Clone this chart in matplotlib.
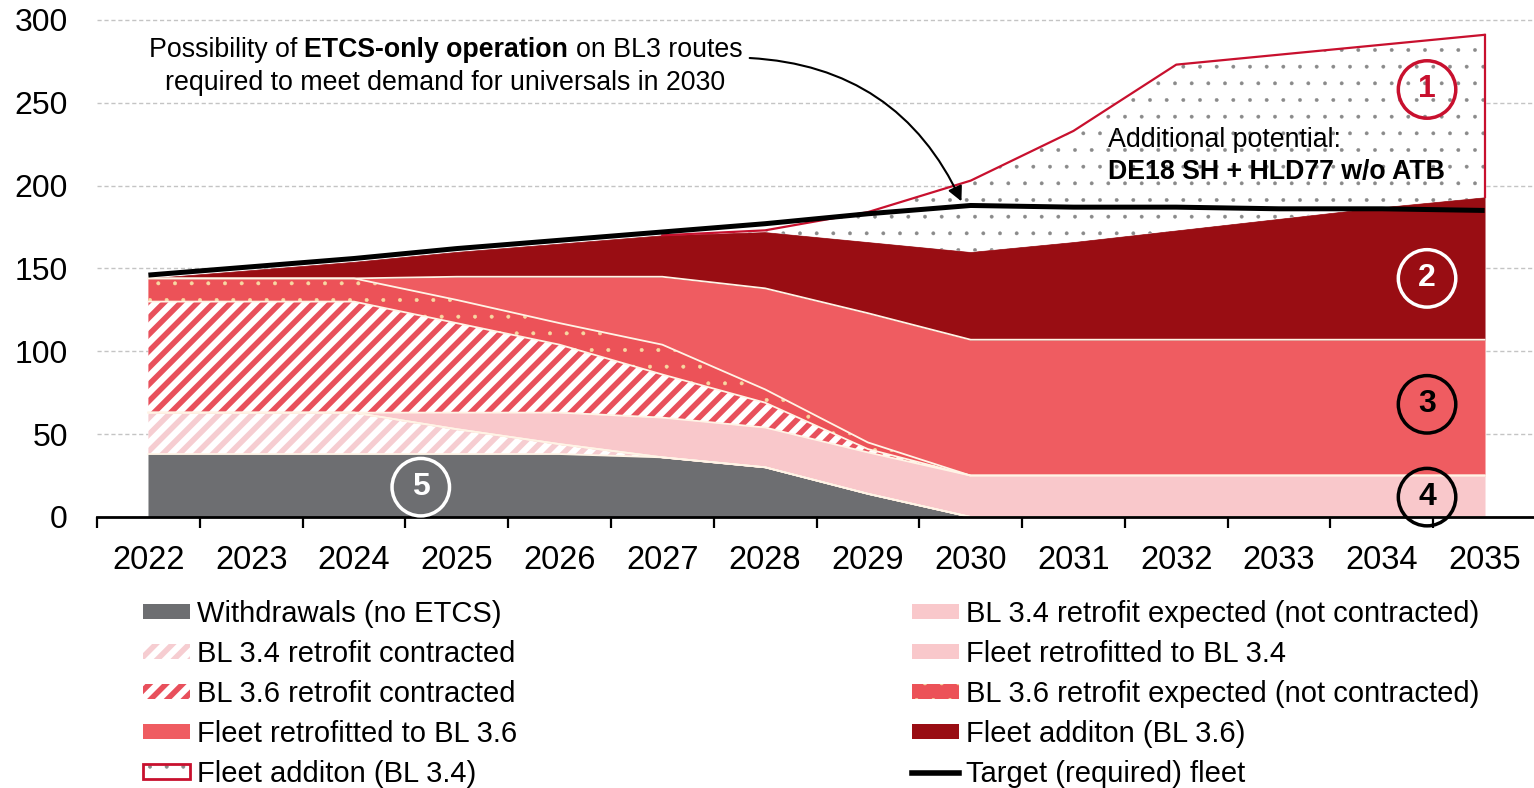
import numpy as np
import matplotlib
import matplotlib.pyplot as plt
from matplotlib.patches import Patch
from matplotlib.lines import Line2D

plt.rcParams['font.family'] = ['Liberation Sans', 'DejaVu Sans']
plt.rcParams['hatch.linewidth'] = 4.0

years = np.arange(2022, 2036)

# stacked layers, bottom -> top (number of vehicles)
withdrawals   = [38, 38, 38, 38, 38, 36, 30, 14, 0, 0, 0, 0, 0, 0]
bl34_contract = [25, 25, 25, 15, 6, 0, 0, 0, 0, 0, 0, 0, 0, 0]
bl34_expected = [0, 0, 0, 0, 0, 0, 0, 0, 0, 0, 0, 0, 0, 0]
bl34_fleet    = [0, 0, 0, 10, 19, 24, 24, 25, 25, 25, 25, 25, 25, 25]
bl36_contract = [67, 67, 67, 54, 41, 26, 15, 2, 0, 0, 0, 0, 0, 0]
bl36_expected = [14, 14, 14, 14, 13, 18, 8, 4, 0, 0, 0, 0, 0, 0]
bl36_fleet    = [0, 0, 0, 14, 28, 41, 61, 78, 82, 82, 82, 82, 82, 82]
add36         = [0, 5, 10, 15, 20, 25, 34, 43, 53, 59, 66, 73, 80, 86]
add34         = [0, 0, 0, 0, 0, 0, 1, 18, 43, 67, 100, 99, 98, 98]
target        = [146, 151, 156, 162, 167, 172, 177, 183, 188, 187, 187, 186, 186, 185]

labels_left = ['Withdrawals (no ETCS)', 'BL 3.4 retrofit contracted', 'BL 3.6 retrofit contracted',
               'Fleet retrofitted to BL 3.6', 'Fleet additon (BL 3.4)']
labels_right = ['BL 3.4 retrofit expected (not contracted)', 'Fleet retrofitted to BL 3.4',
                'BL 3.6 retrofit expected (not contracted)', 'Fleet additon (BL 3.6)', 'Target (required) fleet']

GRAY = '#6d6e71'
PINK = '#f9c8cb'
PINK_H = '#f6cdd1'
RED_H = '#e8505c'
RED = '#ef5c61'
DOT_RED = '#ec5258'
DOT_Y = '#f7d9a2'
DARK = '#990d13'
LINE_RED = '#c8102e'
SEP = '#fff4e6'

W, H = 1534, 788
fig = plt.figure(figsize=(W / 100, H / 100), dpi=100)
ax = fig.add_axes([97 / W, 1 - 517 / H, 1439 / W, 310 * 1.657 / H])
ax.set_xlim(2021.5, 2035.5)
ax.set_ylim(0, 310)


def hlw(obj, lw):
    if hasattr(obj, 'set_hatch_linewidth'):
        obj.set_hatch_linewidth(lw)
    return obj


styles = [
    (withdrawals, dict(facecolor=GRAY, edgecolor=GRAY), None),
    (bl34_contract, dict(facecolor='white', edgecolor=PINK_H, hatch='//'), 4.0),
    (bl34_expected, dict(facecolor=PINK, edgecolor=PINK), None),
    (bl34_fleet, dict(facecolor=PINK, edgecolor=PINK), None),
    (bl36_contract, dict(facecolor='white', edgecolor=RED_H, hatch='//'), 4.0),
    (bl36_expected, dict(facecolor=DOT_RED, edgecolor=DOT_Y, hatch='.'), 0.4),
    (bl36_fleet, dict(facecolor=RED, edgecolor=RED), None),
    (add36, dict(facecolor=DARK, edgecolor=DARK), None),
    (add34, dict(facecolor='white', edgecolor='#8a8a8a', hatch='.'), 0.3),
]

base = np.zeros(len(years))
tops = []
for vals, kw, hl in styles:
    top = base + np.array(vals)
    lw = 0 if hl is not None else 0.5
    pc = ax.fill_between(years, base, top, linewidth=lw, zorder=2, **kw)
    if hl is not None:
        hlw(pc, hl)
    tops.append(top)
    base = top

# thin separators between layers
for top in tops[:7]:
    ax.plot(years, top, color=SEP, lw=1.3, zorder=3)

# outline of the "additional potential" area
bottom34 = tops[7]
top34 = tops[8]
start = 5
ax.plot(years[start:], top34[start:], color=LINE_RED, lw=1.6, zorder=3)
ax.plot([years[-1], years[-1]], [bottom34[-1], top34[-1]], color=LINE_RED, lw=1.6, zorder=3)

# target line
ax.plot(years, target, color='black', lw=3.6, zorder=5, solid_capstyle='butt')

# axes styling
for s in ['left', 'right', 'top']:
    ax.spines[s].set_visible(False)
ax.spines['bottom'].set_linewidth(2)
ax.spines['bottom'].set_zorder(6)
ax.set_yticks([0, 50, 100, 150, 200, 250, 300])
ax.set_xticks(years)
ax.set_xticks(np.arange(2021.5, 2035.6, 1), minor=True)
ax.tick_params(axis='x', which='major', length=0, pad=20, labelsize=23.5)
ax.tick_params(axis='x', which='minor', length=8, width=1.6, direction='out')
ax.tick_params(axis='y', length=0, pad=21, labelsize=23)
ax.grid(axis='y', color='#c4c4c4', lw=1, ls=(0, (3, 2)), zorder=0)
ax.set_axisbelow(True)

# numbered circles
def circ(x, y, s, col):
    ax.text(x, y, s, ha='center', va='center', fontsize=23, fontweight='bold', color=col, zorder=8,
            bbox=dict(boxstyle='circle,pad=0.43', fc='none', ec=col, lw=2.5))

circ(2034.44, 258, '1', LINE_RED)
circ(2034.44, 144, '2', 'white')
circ(2034.44, 68, '3', 'black')
circ(2034.44, 12, '4', 'black')
circ(2024.65, 18, '5', 'white')

# text annotations
FS = 19.3
ax.text(2031.34, 227.5, 'Additional potential:', fontsize=FS, ha='left', va='center', zorder=8)
ax.text(2031.34, 208.2, 'DE18 SH + HLD77 w/o ATB', fontsize=FS, fontweight='bold', ha='left', va='center', zorder=8)

r = fig.canvas.get_renderer()


def tw(s, weight):
    t = ax.text(0, 0, s, fontsize=FS, fontweight=weight)
    w = t.get_window_extent(r).width
    t.remove()
    return w


space = tw('a a', 'normal') - tw('aa', 'normal')
parts = [('Possibility of', 'normal'), ('ETCS-only operation', 'bold'), ('on BL3 routes', 'normal')]
widths = [tw(s, w) for s, w in parts]
total = sum(widths) + space * (len(parts) - 1)
cx, cy = ax.transData.transform((2024.89, 281.8))
x0 = cx - total / 2
inv = ax.transData.inverted()
for (s, w), wd in zip(parts, widths):
    xd, yd = inv.transform((x0, cy))
    ax.text(xd, yd, s, fontsize=FS, fontweight=w, ha='left', va='center', zorder=8)
    x0 += wd + space
ax.text(2024.89, 262, 'required to meet demand for universals in 2030', fontsize=FS,
        ha='center', va='center', zorder=8)

ax.annotate('', xy=(2029.91, 190.5), xytext=(2027.85, 277),
            arrowprops=dict(arrowstyle='-|>', connectionstyle='arc3,rad=-0.3', color='black',
                            lw=1.5, mutation_scale=22, shrinkA=0, shrinkB=0), zorder=8)

# legends
h_left = [
    Patch(facecolor=GRAY, edgecolor=GRAY, lw=0),
    Patch(facecolor='white', edgecolor=PINK_H, hatch='//', lw=0),
    Patch(facecolor='white', edgecolor=RED_H, hatch='//', lw=0),
    Patch(facecolor=RED, edgecolor=RED, lw=0),
    (Patch(facecolor='white', edgecolor='#8a8a8a', hatch='.', lw=0),
     Patch(facecolor='none', edgecolor=LINE_RED, lw=2)),
]
h_right = [
    Patch(facecolor=PINK, edgecolor=PINK, lw=0),
    Patch(facecolor=PINK, edgecolor=PINK, lw=0),
    Patch(facecolor=DOT_RED, edgecolor=DOT_Y, hatch='.', lw=0),
    Patch(facecolor=DARK, edgecolor=DARK, lw=0),
    Line2D([], [], color='black', lw=4),
]
leg_kw = dict(loc='upper left', frameon=False, fontsize=21, borderpad=0, borderaxespad=0,
              handlelength=1.6, handleheight=0.4, handletextpad=0.25, labelspacing=0.41)
legs = [fig.legend(h_left, labels_left, bbox_to_anchor=(143 / W, 1 - 600 / H), **leg_kw),
        fig.legend(h_right, labels_right, bbox_to_anchor=(912 / W, 1 - 600 / H), **leg_kw)]
for leg in legs:
    for p in leg.findobj(Patch):
        h = p.get_hatch()
        if h == '.':
            hlw(p, 0.4)
        elif h:
            hlw(p, 4.0)

fig.savefig('out.png', dpi=100)
